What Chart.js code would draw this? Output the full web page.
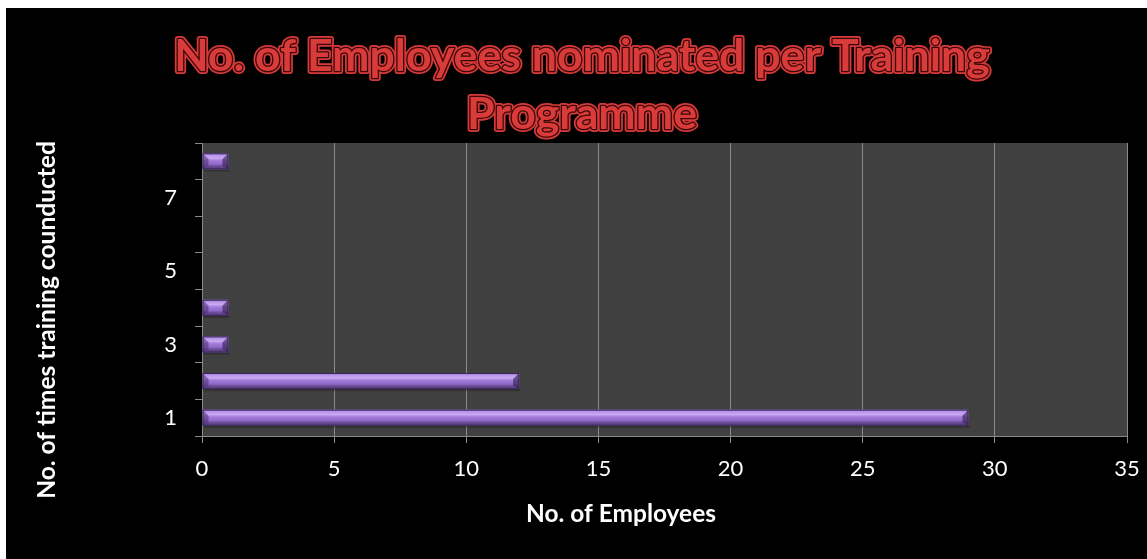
<!DOCTYPE html>
<html>
<head>
<meta charset="utf-8">
<script src="https://cdn.jsdelivr.net/npm/chart.js@4.4.1/dist/chart.umd.min.js"></script>
<style>
  html, body { margin: 0; padding: 0; background: #ffffff; width: 1147px; height: 559px; overflow: hidden; }
  #wrap { position: absolute; left: 6px; top: 8px; width: 1141px; height: 551px; background: #000; }
  canvas { display: block; }
</style>
</head>
<body>
<div id="wrap"><canvas id="c" width="1141" height="551"></canvas></div>
<script>
// ---- data ----
const categories = ['1', '2', '3', '4', '5', '6', '7', '8'];
const employees = [29, 12, 1, 1, 0, 0, 0, 1];
const xTicks = [0, 5, 10, 15, 20, 25, 30, 35];
const titleLines = ['No. of Employees nominated per Training', 'Programme'];
const xTitle = 'No. of Employees';
const yTitle = 'No. of times training counducted';

const FONT = 'Lato, "Open Sans", "DejaVu Sans", sans-serif';
const GRID = '#8a8a8a';

function fitFont(ctx, text, weight, target, start) {
  let size = start;
  ctx.font = weight + ' ' + size + 'px ' + FONT;
  const w = ctx.measureText(text).width;
  size = size * target / w;
  return size;
}

const decor = {
  id: 'decor',
  beforeDraw(chart) {
    const { ctx, chartArea: a } = chart;
    ctx.save();
    ctx.fillStyle = '#000';
    ctx.fillRect(0, 0, chart.width, chart.height);
    ctx.fillStyle = '#404040';
    ctx.fillRect(a.left, a.top, a.right - a.left, a.bottom - a.top);
    ctx.restore();
  },
  afterDatasetsDraw(chart) {
    const { ctx } = chart;
    const meta = chart.getDatasetMeta(0);
    ctx.save();
    meta.data.forEach((bar, i) => {
      if (!employees[i]) return;
      const p = bar.getProps(['x', 'y', 'base', 'height'], true);
      const x0 = p.base, x1 = p.x, h = p.height, y0 = p.y - h / 2, y1 = p.y + h / 2;
      const w = x1 - x0;
      ctx.fillStyle = 'rgba(0,0,0,0.25)';
      ctx.fillRect(x0 + 1, y1, w, 2);
      const g = ctx.createLinearGradient(0, y0, 0, y1);
      g.addColorStop(0, '#8f6cc4');
      g.addColorStop(0.12, '#b894e8');
      g.addColorStop(0.3, '#caa8f4');
      g.addColorStop(0.45, '#a47dd9');
      g.addColorStop(0.68, '#9068c6');
      g.addColorStop(0.8, '#6c4c98');
      g.addColorStop(1, '#503774');
      ctx.fillStyle = g;
      ctx.fillRect(x0, y0, w, h);
      const b = Math.min(6, w / 2);
      ctx.fillStyle = 'rgba(70,45,110,0.55)';
      ctx.beginPath();
      ctx.moveTo(x0, y0); ctx.lineTo(x0 + b, y0 + b); ctx.lineTo(x0 + b, y1 - b * 0.6); ctx.lineTo(x0, y1);
      ctx.closePath(); ctx.fill();
      ctx.fillStyle = 'rgba(45,28,75,0.6)';
      ctx.beginPath();
      ctx.moveTo(x1, y0); ctx.lineTo(x1 - b, y0 + b); ctx.lineTo(x1 - b, y1 - b * 0.6); ctx.lineTo(x1, y1);
      ctx.closePath(); ctx.fill();
      ctx.strokeStyle = '#3a2855';
      ctx.lineWidth = 1;
      ctx.strokeRect(x0 + 0.5, y0 + 0.5, w - 1, h - 1);
    });
    ctx.restore();
  },
  afterDraw(chart) {
    const { ctx } = chart;
    ctx.save();
    const ts = fitFont(ctx, titleLines[0], 'bold', 816, 40);
    ctx.font = 'bold ' + ts + 'px ' + FONT;
    ctx.textAlign = 'center';
    ctx.textBaseline = 'alphabetic';
    ctx.lineJoin = 'round';
    const tpos = [[576, 63], [576, 121]];
    titleLines.forEach((t, i) => {
      const [x, y] = tpos[i];
      ctx.strokeStyle = '#d83a3a'; ctx.lineWidth = 6; ctx.strokeText(t, x, y);
      ctx.strokeStyle = '#3a0808'; ctx.lineWidth = 2.6; ctx.strokeText(t, x, y);
      ctx.fillStyle = '#d93b3b'; ctx.fillText(t, x, y);
    });
    ctx.fillStyle = '#ffffff';
    const xs = fitFont(ctx, xTitle, 'bold', 190, 20);
    ctx.font = 'bold ' + xs + 'px ' + FONT;
    ctx.fillText(xTitle, 615, 514);
    const ys = fitFont(ctx, yTitle, 'bold', 358, 20);
    ctx.font = 'bold ' + ys + 'px ' + FONT;
    ctx.translate(49, 312);
    ctx.rotate(-Math.PI / 2);
    ctx.fillText(yTitle, 0, 0);
    ctx.restore();
  }
};

new Chart(document.getElementById('c'), {
  type: 'bar',
  data: {
    labels: categories,
    datasets: [{
      data: employees,
      backgroundColor: '#9a74cf',
      borderWidth: 0,
      barPercentage: 0.44,
      categoryPercentage: 1
    }]
  },
  options: {
    indexAxis: 'y',
    responsive: false,
    animation: false,
    devicePixelRatio: 1,
    layout: { padding: { top: 135, right: 20, left: 0, bottom: 0 } },
    plugins: { legend: { display: false }, tooltip: { enabled: false }, title: { display: false } },
    scales: {
      x: {
        min: xTicks[0],
        max: xTicks[xTicks.length - 1],
        afterBuildTicks(scale) { scale.ticks = xTicks.map(v => ({ value: v })); },
        afterFit(scale) { scale.height = 123; scale.paddingLeft = 0; scale.paddingRight = 0; },
        ticks: { color: '#ffffff', font: { family: FONT, size: 22 }, padding: 13 },
        grid: { color: GRID, lineWidth: 1, tickLength: 7, drawOnChartArea: true },
        border: { color: GRID, width: 1 }
      },
      y: {
        reverse: true,
        afterFit(scale) { scale.width = 196; scale.paddingTop = 0; scale.paddingBottom = 0; },
        ticks: {
          color: '#ffffff',
          font: { family: FONT, size: 22 },
          padding: 18,
          autoSkip: false,
          callback(v, i) { return i % 2 === 0 ? categories[i] : ''; }
        },
        grid: { color: GRID, offset: true, drawOnChartArea: false, tickLength: 7 },
        border: { color: GRID, width: 1 }
      }
    }
  },
  plugins: [decor]
});
</script>
</body>
</html>
